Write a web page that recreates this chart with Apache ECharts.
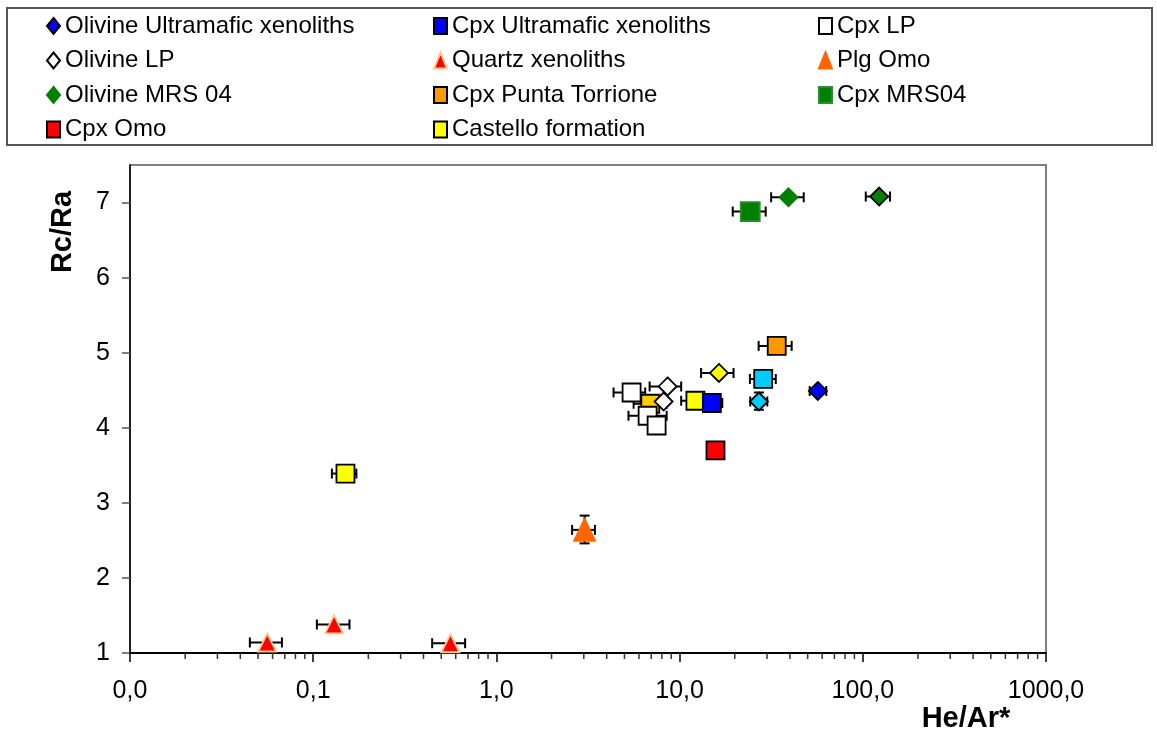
<!DOCTYPE html>
<html>
<head>
<meta charset="utf-8">
<script src="https://cdn.jsdelivr.net/npm/echarts@6/dist/echarts.min.js"></script>
<style>
html,body{margin:0;padding:0;background:#fff;}
#chart{width:1157px;height:738px;}
</style>
</head>
<body>
<div id="chart"></div>
<script>
// ---------- DATA ----------
// He/Ar* (x), Rc/Ra (y), horizontal error bar ends [low, high], vertical error ends
const olivineUltramaficX = [56.8];
const olivineUltramaficY = [4.49];
const olivineUltramaficErrX = [[51.3, 63.2]];

const cpxUltramaficX = [15.0];
const cpxUltramaficY = [4.33];
const cpxUltramaficErrX = [[13.2, 17.1]];

const cpxLPX = [5.47, 6.69, 7.49];
const cpxLPY = [4.47, 4.16, 4.03];
const cpxLPErrX = [[4.36, 6.49], [5.26, 8.5], null];

const olivineLPX = [8.6, 8.18];
const olivineLPY = [4.55, 4.35];
const olivineLPErrX = [[6.86, 10.2], null];

const quartzX = [0.0561, 0.130, 0.561];
const quartzY = [1.14, 1.38, 1.13];
const quartzErrX = [[0.0451, 0.0675], [0.1047, 0.1578], [0.446, 0.675]];

const plgOmoX = [3.03];
const plgOmoY = [2.64];
const plgOmoErrX = [[2.59, 3.45]];
const plgOmoErrY = [[2.46, 2.83]];

const olivineMRSX = [39.3, 122.8];
const olivineMRSY = [7.07, 7.08];
const olivineMRSErrX = [[31.6, 47.6], [103.8, 140.8]];

const cpxPuntaX = [33.9];
const cpxPuntaY = [5.09];
const cpxPuntaErrX = [[27.0, 40.9]];

const cpxMRSX = [24.3];
const cpxMRSY = [6.88];
const cpxMRSErrX = [[19.5, 29.5]];

const cpxOmoX = [15.7];
const cpxOmoY = [3.70];
const cpxOmoErrX = [null];

const castelloX = [0.150, 12.2];
const castelloY = [3.39, 4.36];
const castelloErrX = [[0.1265, 0.172], [10.2, 14.6]];

// points drawn without a legend entry
const cpxCyanX = [28.6];
const cpxCyanY = [4.65];
const cpxCyanErrX = [[24.2, 33.5]];

const olivineCyanX = [27.1];
const olivineCyanY = [4.35];
const olivineCyanErrX = [[24.3, 30.1]];
const olivineCyanErrY = [[4.24, 4.47]];

const olivineCastelloX = [16.4];
const olivineCastelloY = [4.73];
const olivineCastelloErrX = [[13.1, 19.7]];

const cpxGoldX = [6.92];
const cpxGoldY = [4.32];
const cpxGoldErrX = [[5.61, 8.5]];

// axis ticks
const xMajorTicks = [0.01, 0.1, 1, 10, 100, 1000];
const xMinorTicks = [0.02,0.03,0.04,0.05,0.06,0.07,0.08,0.09,
                     0.2,0.3,0.4,0.5,0.6,0.7,0.8,0.9,
                     2,3,4,5,6,7,8,9,
                     20,30,40,50,60,70,80,90,
                     200,300,400,500,600,700,800,900];
const yTicks = [1, 2, 3, 4, 5, 6, 7];

// ---------- BUILD ----------
const FONT = '"Liberation Sans", Arial, sans-serif';
const BLK = '#000000';

const specs = [
  {name:'Gold cpx', x:cpxGoldX, y:cpxGoldY, ex:cpxGoldErrX, symbol:'rect', size:[18,18], color:'#FFCC00', border:BLK},
  {name:'Cpx LP', x:cpxLPX, y:cpxLPY, ex:cpxLPErrX, symbol:'rect', size:[18,18], color:'#FFFFFF', border:BLK},
  {name:'Olivine LP', x:olivineLPX, y:olivineLPY, ex:olivineLPErrX, symbol:'diamond', size:[18,18], color:'#FFFFFF', border:BLK},
  {name:'Castello formation', x:castelloX, y:castelloY, ex:castelloErrX, symbol:'rect', size:[18,18], color:'#FFFF00', border:BLK},
  {name:'Cpx Ultramafic xenoliths', x:cpxUltramaficX, y:cpxUltramaficY, ex:cpxUltramaficErrX, symbol:'rect', size:[18,18], color:'#0000FF', border:BLK},
  {name:'Olivine Castello', x:olivineCastelloX, y:olivineCastelloY, ex:olivineCastelloErrX, symbol:'diamond', size:[18,18], color:'#FFFF00', border:BLK},
  {name:'Cpx Omo', x:cpxOmoX, y:cpxOmoY, ex:cpxOmoErrX, symbol:'rect', size:[18,18], color:'#FF0000', border:BLK},
  {name:'Cpx cyan', x:cpxCyanX, y:cpxCyanY, ex:cpxCyanErrX, symbol:'rect', size:[18,18], color:'#00CCFF', border:BLK},
  {name:'Olivine cyan', x:olivineCyanX, y:olivineCyanY, ex:olivineCyanErrX, ey:olivineCyanErrY, symbol:'diamond', size:[18,18], color:'#00CCFF', border:BLK},
  {name:'Cpx Punta Torrione', x:cpxPuntaX, y:cpxPuntaY, ex:cpxPuntaErrX, symbol:'rect', size:[18,18], color:'#FF9900', border:BLK},
  {name:'Olivine Ultramafic xenoliths', x:olivineUltramaficX, y:olivineUltramaficY, ex:olivineUltramaficErrX, symbol:'diamond', size:[18,18], color:'#0000FF', border:BLK},
  {name:'Cpx MRS04', x:cpxMRSX, y:cpxMRSY, ex:cpxMRSErrX, symbol:'rect', size:[19,19], color:'#008000', border:'#2E8B2E'},
  {name:'Olivine MRS 04', x:olivineMRSX, y:olivineMRSY, ex:olivineMRSErrX, symbol:'diamond', size:[18,18], color:'#008000', border:'#008000', pointBorder:[null, BLK]},
  {name:'Quartz xenoliths', x:quartzX, y:quartzY, ex:quartzErrX, symbol:'triangle', size:[18,18], color:'#FF0000', border:'#FFC890'},
  {name:'Plg Omo', x:plgOmoX, y:plgOmoY, ex:plgOmoErrX, ey:plgOmoErrY, symbol:'triangle', size:[21,22], color:'#FF6600', border:'#FF6600'}
];

const errRows = [];
specs.forEach(s => {
  s.x.forEach((v, i) => {
    const ex = s.ex ? s.ex[i] : null;
    const ey = s.ey ? s.ey[i] : null;
    if (ex || ey) errRows.push({x: v, y: s.y[i], ex: ex, ey: ey});
  });
});

const CAP = 5;
function seg(x1, y1, x2, y2) {
  return {type:'line', shape:{x1:x1, y1:y1, x2:x2, y2:y2}, style:{stroke:'#000', lineWidth:2}};
}

const series = [];
series.push({
  type:'custom', name:'errorbars', silent:true, z:2, clip:false,
  encode:{x:0, y:1},
  data: errRows.map(r => [r.x, r.y]),
  renderItem: function (params, api) {
    const r = errRows[params.dataIndex];
    const ch = [];
    if (r.ex) {
      const a = api.coord([r.ex[0], r.y]);
      const b = api.coord([r.ex[1], r.y]);
      ch.push(seg(a[0], a[1], b[0], b[1]));
      ch.push(seg(a[0], a[1]-CAP, a[0], a[1]+CAP));
      ch.push(seg(b[0], b[1]-CAP, b[0], b[1]+CAP));
    }
    if (r.ey) {
      const a = api.coord([r.x, r.ey[0]]);
      const b = api.coord([r.x, r.ey[1]]);
      ch.push(seg(a[0], a[1], b[0], b[1]));
      ch.push(seg(a[0]-CAP, a[1], a[0]+CAP, a[1]));
      ch.push(seg(b[0]-CAP, b[1], b[0]+CAP, b[1]));
    }
    return {type:'group', children: ch};
  }
});

specs.forEach(s => {
  series.push({
    type:'scatter', name:s.name, z:3,
    symbol:s.symbol, symbolSize:s.size,
    itemStyle:{color:s.color, borderColor:s.border, borderWidth:1.8, opacity:1},
    emphasis:{disabled:true},
    data: s.x.map((v, i) => {
      const item = {value:[v, s.y[i]]};
      if (s.pointBorder && s.pointBorder[i]) item.itemStyle = {borderColor:s.pointBorder[i]};
      return item;
    })
  });
});

// minor log ticks of the x axis
series.push({
  type:'custom', name:'minorTicks', silent:true, z:5, clip:false,
  encode:{x:0, y:1},
  data: xMinorTicks.map(v => [v, yTicks[0]]),
  renderItem: function (params, api) {
    const p = api.coord([api.value(0), api.value(1)]);
    return {type:'line', shape:{x1:p[0], y1:p[1], x2:p[0], y2:p[1]+6}, style:{stroke:'#333', lineWidth:1.5}};
  }
});

const legendStyle = {fontFamily:FONT, fontSize:24, color:'#000', lineHeight:24};
function legendCol(left, names) {
  return {
    orient:'vertical', left:left, top:14, itemGap:10.5, itemWidth:13, itemHeight:16,
    selectedMode:false, textStyle:legendStyle, data:names, padding:0
  };
}

const option = {
  animation:false,
  backgroundColor:'#ffffff',
  textStyle:{fontFamily:FONT},
  grid:{left:130, right:111, top:165, bottom:85, show:true, borderColor:'#7f7f7f', borderWidth:2, backgroundColor:'transparent'},
  legend:[
    legendCol(46, ['Olivine Ultramafic xenoliths','Olivine LP','Olivine MRS 04','Cpx Omo']),
    legendCol(433, ['Cpx Ultramafic xenoliths','Quartz xenoliths','Cpx Punta Torrione','Castello formation']),
    legendCol(818, ['Cpx LP','Plg Omo','Cpx MRS04'])
  ],
  xAxis:{
    type:'log', logBase:10, min:xMajorTicks[0], max:xMajorTicks[xMajorTicks.length-1],
    axisLine:{show:true, onZero:false, lineStyle:{color:'#000', width:2}},
    axisTick:{show:true, inside:false, length:9, lineStyle:{color:'#000', width:1.5}},
    minorTick:{show:false},
    splitLine:{show:false},
    axisLabel:{
      fontFamily:FONT, fontSize:25, color:'#000', margin:26,
      formatter: v => Number(v).toFixed(1).replace('.', ',')
    }
  },
  yAxis:{
    type:'value', min:1, max:7.5, interval:1,
    axisLine:{show:true, onZero:false, lineStyle:{color:'#000', width:1.5}},
    axisTick:{show:true, inside:false, length:8, lineStyle:{color:'#555', width:1.5}, customValues:yTicks},
    splitLine:{show:false},
    axisLabel:{fontFamily:FONT, fontSize:25, color:'#000', margin:20, customValues:yTicks,
      formatter: v => (Number.isInteger(v) ? String(v) : '')}
  },
  graphic:[
    {type:'rect', z:0, shape:{x:7, y:8, width:1145, height:137}, style:{fill:'none', stroke:'#555', lineWidth:2}},
    {type:'text', x:63, y:232, rotation:Math.PI/2,
      style:{text:'Rc/Ra', font:'bold 29px ' + FONT, fill:'#000', textAlign:'center', textVerticalAlign:'middle'}},
    {type:'text', x:966, y:719,
      style:{text:'He/Ar*', font:'bold 29px ' + FONT, fill:'#000', textAlign:'center', textVerticalAlign:'middle'}}
  ],
  series: series
};

const chart = echarts.init(document.getElementById('chart'), null, {renderer:'canvas'});
chart.setOption(option);
</script>
</body>
</html>
